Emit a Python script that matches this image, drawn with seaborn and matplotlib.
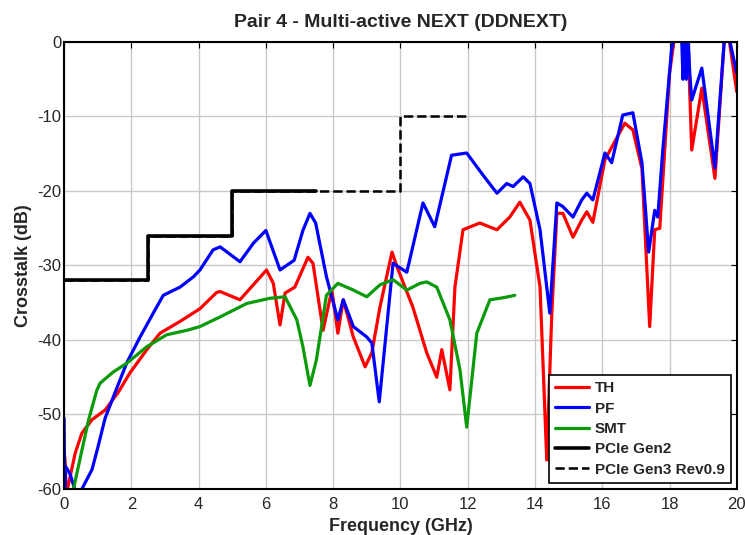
import matplotlib
matplotlib.use('Agg')
import matplotlib.pyplot as plt
import pandas as pd
import seaborn as sns

# TH trace (red)
th_freq = [0, 0.04, 0.06, 0.1, 0.33, 0.53, 0.83, 1.22, 1.6, 1.96, 2.46, 2.85, 3.45, 4.04, 4.54,
           4.64, 5.23, 6.02, 6.22, 6.42, 6.57, 6.86, 7.25, 7.4, 7.7, 7.96, 8.14, 8.3, 8.6, 8.95,
           9.15, 9.39, 9.75, 9.9, 10.37, 10.78, 11.08, 11.23, 11.47, 11.62, 11.86, 12.36, 12.87,
           13.25, 13.55, 13.85, 14.15, 14.35, 14.5, 14.65, 14.83, 15.13, 15.39, 15.54, 15.72,
           16.08, 16.67, 16.91, 17.18, 17.41, 17.56, 17.71, 18.0, 18.16, 18.5, 18.55, 18.66,
           18.96, 19.35, 19.64, 19.75, 20]
th_db = [-54.5, -57, -61, -60, -55.2, -52.5, -50.7, -49.4, -47.1, -44.4, -41.3, -39.1, -37.5, -35.8,
         -33.6, -33.5, -34.6, -30.6, -32.4, -38, -33.7, -32.9, -28.9, -29.7, -38.7, -33.3, -39.1,
         -34.6, -39.6, -43.6, -41.7, -35.6, -28.2, -30.2, -35.6, -41.7, -45, -41.3, -46.7, -32.9,
         -25.2, -24.3, -25.2, -23.5, -21.5, -23.9, -32.9, -56.1, -36.4, -23, -23, -26.2, -23.9,
         -22.8, -24.2, -15.8, -10.9, -11.8, -17, -38.2, -25.2, -25, -4.2, 1, 1, 0, -14.5,
         -6.2, -18.3, 1, 1, -6.7]

# PF trace (blue)
pf_freq = [0, 0.02, 0.05, 0.18, 0.45, 0.53, 0.83, 1.0, 1.22, 1.52, 1.87, 2.26, 2.65, 2.95, 3.45,
           3.85, 4.04, 4.43, 4.64, 5.23, 5.63, 6.0, 6.42, 6.84, 7.1, 7.31, 7.48, 7.8, 8.14, 8.3,
           8.6, 9.0, 9.15, 9.37, 9.78, 10.19, 10.67, 11.02, 11.52, 11.97, 12.46, 12.87, 13.16,
           13.35, 13.65, 13.85, 14.15, 14.44, 14.65, 14.83, 15.13, 15.39, 15.54, 15.72, 16.08,
           16.28, 16.61, 16.91, 17.18, 17.38, 17.56, 17.65, 17.8, 18.06, 18.2, 18.35, 18.4,
           18.45, 18.5, 18.55, 18.6, 18.66, 18.96, 19.35, 19.64, 19.75, 20]
pf_db = [-50.5, -60, -57, -58, -62, -60, -57.4, -54.5, -50.5, -47, -43, -39.6, -36.4, -34,
         -32.9, -31.5, -30.6, -27.9, -27.5, -29.5, -27, -25.3, -30.6, -29.3, -25.3, -23, -24.3,
         -31.5, -37.3, -34.6, -38.2, -39.6, -40.4, -48.3, -29.7, -30.9, -21.6, -24.8, -15.2,
         -14.9, -17.9, -20.3, -19, -19.4, -18.1, -19, -25.2, -36.4, -21.6, -22.1, -23.5, -21.2,
         -20.3, -21.2, -14.9, -16.2, -9.8, -9.5, -16.2, -28.2, -22.6, -23.5, -14.5, -1, 2, 2,
         -5, 1, -5, 1, -4, -7.8, -3.5, -16.9, 1, 1, -4.2]

# SMT trace (green)
smt_freq = [0.28, 0.53, 0.73, 0.97, 1.07, 1.46, 1.87, 2.46, 3.05, 3.65, 4.04, 4.64, 5.43, 6.12,
            6.57, 6.92, 7.1, 7.31, 7.5, 7.8, 8.14, 8.6, 9.0, 9.39, 9.78, 10.19, 10.58, 10.78,
            11.08, 11.47, 11.77, 11.97, 12.27, 12.66, 12.96, 13.2, 13.4]
smt_db = [-60, -54.8, -50.7, -46.8, -45.8, -44.3, -43.1, -40.9, -39.3, -38.7, -38.2, -36.9,
          -35.1, -34.4, -34.2, -37.3, -40.9, -46.1, -42.7, -34, -32.4, -33.3, -34.2, -32.6,
          -31.9, -33.3, -32.4, -32.2, -32.9, -37.3, -44, -51.7, -39.1, -34.6, -34.4, -34.2, -34]

# PCIe limit masks
gen2_freq = [0, 2.5, 5, 7.5]
gen2_db = [-32, -26, -20, -20]
gen3_freq = [0, 2.5, 5, 10, 12]
gen3_db = [-32, -26, -20, -10, -10]

sns.set_style('white')
plt.rcParams['font.family'] = ['Liberation Sans', 'DejaVu Sans']
plt.rcParams['axes.unicode_minus'] = False

fig, ax = plt.subplots(figsize=(7.45, 5.35), dpi=100)
fig.subplots_adjust(left=0.086, right=0.989, bottom=0.086, top=0.9215)

traces = [
    (th_freq, th_db, 'red', 'TH'),
    (pf_freq, pf_db, 'blue', 'PF'),
    (smt_freq, smt_db, '#0a9a0a', 'SMT'),
]
for f, d, c, name in traces:
    df = pd.DataFrame({'freq': f, 'db': d})
    sns.lineplot(data=df, x='freq', y='db', color=c, lw=2.3, label=name, ax=ax,
                 sort=False, estimator=None)

sns.lineplot(x=gen3_freq, y=gen3_db, color='black', lw=1.8, ls='--', dashes=(3, 1.6),
             drawstyle='steps-post', label='PCIe Gen3 Rev0.9', ax=ax, estimator=None)
sns.lineplot(x=gen2_freq, y=gen2_db, color='black', lw=2.6, drawstyle='steps-post',
             label='PCIe Gen2', ax=ax, estimator=None)

ax.set_xlim(0, 20)
ax.set_ylim(-60, 0)
ax.set_xticks(range(0, 21, 2))
ax.set_yticks(range(-60, 1, 10))
ax.grid(True, color='#c8c8c8', lw=1)
ax.tick_params(direction='in', top=True, right=True, labelsize=12, length=4, color='black')
ax.tick_params(axis='x', pad=6)
ax.tick_params(axis='y', pad=2)
for s in ax.spines.values():
    s.set_color('black')
    s.set_linewidth(1.5)

ax.set_title('Pair 4 - Multi-active NEXT (DDNEXT)', fontsize=14, fontweight='bold', pad=11)
ax.set_xlabel('Frequency (GHz)', fontsize=13, fontweight='bold', labelpad=4)
ax.set_ylabel('Crosstalk (dB)', fontsize=13, fontweight='bold', labelpad=4)

# legend order as in the reference
h, l = ax.get_legend_handles_labels()
order = [l.index(n) for n in ['TH', 'PF', 'SMT', 'PCIe Gen2', 'PCIe Gen3 Rev0.9']]
leg = ax.legend([h[i] for i in order], [l[i] for i in order], loc='lower right',
                frameon=True, fancybox=False, edgecolor='black',
                prop={'weight': 'bold', 'size': 11}, handlelength=2.2, borderaxespad=0.4,
                labelspacing=0.42, handletextpad=0.4, borderpad=0.4)
leg.get_frame().set_linewidth(1.2)
leg.get_frame().set_alpha(1)

fig.savefig('out.png', dpi=100)
